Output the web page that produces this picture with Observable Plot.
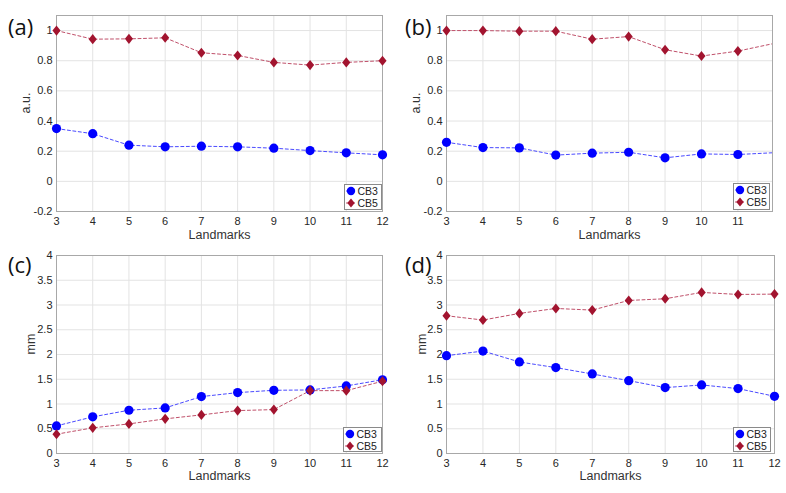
<!DOCTYPE html>
<html>
<head>
<meta charset="utf-8">
<script src="https://cdn.jsdelivr.net/npm/d3@7"></script>
<script src="https://cdn.jsdelivr.net/npm/@observablehq/plot@0.6"></script>
<style>
  html, body { margin: 0; padding: 0; background: #fff; }
  #wrap { position: relative; width: 786px; height: 493px; background: #fff; overflow: hidden; font-family: "Liberation Sans", Arial, sans-serif; }
  .panel { position: absolute; }
  .tag { position: absolute; font-family: "Open Sans", "Liberation Sans", sans-serif; font-size: 22px; color: #111; line-height: 1; }
  .legend { position: absolute; background: #fff; border: 1px solid #8a8a8a; box-sizing: border-box; }
  .legend svg { display: block; }
</style>
</head>
<body>
<div id="wrap"></div>
<script>
// ---- Data ----
const landmarks = [3, 4, 5, 6, 7, 8, 9, 10, 11, 12];
const seriesNames = ["CB3", "CB5"];
const panelTags = ["(a)", "(b)", "(c)", "(d)"];
const yLabels = ["a.u.", "a.u.", "mm", "mm"];
const xLabel = "Landmarks";

const aCB3 = [0.35, 0.316, 0.24, 0.229, 0.233, 0.229, 0.22, 0.204, 0.189, 0.176];
const aCB5 = [1.0, 0.943, 0.945, 0.952, 0.853, 0.835, 0.789, 0.771, 0.789, 0.80];
const bCB3 = [0.259, 0.224, 0.222, 0.174, 0.187, 0.193, 0.156, 0.182, 0.178, 0.19];
const bCB5 = [1.0, 1.0, 0.996, 0.996, 0.943, 0.96, 0.873, 0.831, 0.864, 0.915];
const cCB3 = [0.558, 0.74, 0.874, 0.921, 1.15, 1.23, 1.277, 1.284, 1.365, 1.49];
const cCB5 = [0.39, 0.518, 0.598, 0.70, 0.78, 0.867, 0.887, 1.27, 1.27, 1.46];
const dCB3 = [1.976, 2.07, 1.849, 1.735, 1.607, 1.472, 1.331, 1.385, 1.311, 1.156];
const dCB5 = [2.783, 2.696, 2.83, 2.93, 2.897, 3.092, 3.126, 3.254, 3.213, 3.22];

const xTicksFull = [3, 4, 5, 6, 7, 8, 9, 10, 11, 12];
const xTicksB = [3, 4, 5, 6, 7, 8, 9, 10, 11];
const yTicksAU = [-0.2, 0, 0.2, 0.4, 0.6, 0.8, 1];
const yTicksMM = [0, 0.5, 1, 1.5, 2, 2.5, 3, 3.5, 4];

const colCB3 = "#0000ff";
const colCB5 = "#a2142f";
const lineCB3 = "#4a4aff";
const lineCB5 = "#c0506a";

// MATLAB-like diamond (slightly taller than wide)
const matDiamond = {
  draw(ctx, size) {
    const r = Math.sqrt(size / Math.PI);
    const hh = r * 1.1, hw = r * 0.88;
    ctx.moveTo(0, -hh); ctx.lineTo(hw, 0); ctx.lineTo(0, hh); ctx.lineTo(-hw, 0); ctx.closePath();
  }
};

function rows(vals) { return landmarks.map((x, i) => ({x, y: vals[i]})); }

const panels = [
  {tag: panelTags[0], ylab: yLabels[0], c3: aCB3, c5: aCB5, left: 0, top: 0, width: 393, height: 245,
   mL: 56, mR: 11, mT: 15, mB: 34, xDom: [3, 12], xT: xTicksFull, yDom: [-0.2, 1.1], yT: yTicksAU, ylDx: -31, xlDy: 27,
   tagPos: [8, 15], leg: [344, 184, 38, 26]},
  {tag: panelTags[1], ylab: yLabels[1], c3: bCB3, c5: bCB5, left: 393, top: 0, width: 393, height: 245,
   mL: 53, mR: 14, mT: 15, mB: 34, xDom: [3, 11.95], xT: xTicksB, yDom: [-0.2, 1.1], yT: yTicksAU, ylDx: -31, xlDy: 27,
   tagPos: [405, 15], leg: [733, 183, 37, 27]},
  {tag: panelTags[2], ylab: yLabels[2], c3: cCB3, c5: cCB5, left: 0, top: 240, width: 393, height: 253,
   mL: 56, mR: 11, mT: 15, mB: 40, xDom: [3, 12], xT: xTicksFull, yDom: [0, 4], yT: yTicksMM, ylDx: -26, xlDy: 26,
   tagPos: [8, 253], leg: [343, 427, 39, 25]},
  {tag: panelTags[3], ylab: yLabels[3], c3: dCB3, c5: dCB5, left: 393, top: 240, width: 393, height: 253,
   mL: 53, mR: 12, mT: 15, mB: 40, xDom: [3, 12], xT: xTicksFull, yDom: [0, 4], yT: yTicksMM, ylDx: -25, xlDy: 26,
   tagPos: [405, 253], leg: [733, 427, 38, 25]}
];

const wrap = document.getElementById("wrap");

for (const p of panels) {
  const d3rows = rows(p.c3);
  const d5rows = rows(p.c5);
  const inDom = r => r.x >= p.xDom[0] && r.x <= p.xDom[1];
  const chart = Plot.plot({
    width: p.width, height: p.height,
    marginLeft: p.mL, marginRight: p.mR, marginTop: p.mT, marginBottom: p.mB,
    style: {fontFamily: "Liberation Sans, Arial, sans-serif", fontSize: "11px", color: "#262626", background: "transparent", overflow: "visible"},
    x: {domain: p.xDom, label: null},
    y: {domain: p.yDom, label: null},
    marks: [
      Plot.gridX(p.xT, {stroke: "#e3e3e3", strokeOpacity: 1}),
      Plot.gridY(p.yT, {stroke: "#e3e3e3", strokeOpacity: 1}),
      Plot.frame({stroke: "#a8a8a8"}),
      Plot.axisX({ticks: p.xT, tickSize: 0, tickPadding: 5.5, tickFormat: d => String(d), label: null, fontSize: 11}),
      Plot.axisY({ticks: p.yT, tickSize: 0, tickPadding: 4, tickFormat: d => String(d), label: null, fontSize: 11}),
      Plot.text([xLabel], {text: d => d, frameAnchor: "bottom", dy: p.xlDy, fontSize: 12.5, fill: "#333"}),
      Plot.text([p.ylab], {text: d => d, frameAnchor: "left", dx: p.ylDx, rotate: -90, fontSize: 12.5, fill: "#333"}),
      Plot.line(d3rows, {x: "x", y: "y", stroke: lineCB3, strokeWidth: 1, strokeDasharray: "3,2.5", clip: true}),
      Plot.line(d5rows, {x: "x", y: "y", stroke: lineCB5, strokeWidth: 1, strokeDasharray: "3,2.5", clip: true}),
      Plot.dot(d3rows.filter(inDom), {x: "x", y: "y", fill: colCB3, r: 4.6, symbol: "circle"}),
      Plot.dot(d5rows.filter(inDom), {x: "x", y: "y", fill: colCB5, r: 4.6, symbol: matDiamond})
    ]
  });
  const div = document.createElement("div");
  div.className = "panel";
  div.style.left = p.left + "px";
  div.style.top = p.top + "px";
  div.appendChild(chart);
  wrap.appendChild(div);

  const tag = document.createElement("div");
  tag.className = "tag";
  tag.style.left = p.tagPos[0] + "px";
  tag.style.top = p.tagPos[1] + "px";
  tag.textContent = p.tag;
  wrap.appendChild(tag);

  // legend
  const [lx, ly, lw, lh] = p.leg;
  const leg = document.createElement("div");
  leg.className = "legend";
  leg.style.left = lx + "px";
  leg.style.top = ly + "px";
  leg.style.width = lw + "px";
  leg.style.height = lh + "px";
  const svg = d3.create("svg").attr("width", lw - 2).attr("height", lh - 2);
  const entries = [
    {name: seriesNames[0], color: colCB3, line: lineCB3, sym: d3.symbolCircle, size: Math.PI * 4.2 * 4.2},
    {name: seriesNames[1], color: colCB5, line: lineCB5, sym: matDiamond, size: Math.PI * 4.2 * 4.2}
  ];
  entries.forEach((e, i) => {
    const cy = 6 + i * 12;
    svg.append("line").attr("x1", 1).attr("x2", 11).attr("y1", cy).attr("y2", cy)
      .attr("stroke", e.line).attr("stroke-width", 1).attr("stroke-dasharray", "2,1.5");
    svg.append("path").attr("d", d3.symbol(e.sym, e.size)()).attr("transform", `translate(6,${cy})`).attr("fill", e.color);
    svg.append("text").attr("x", 12.5).attr("y", cy).attr("dy", "0.36em")
      .attr("font-family", "Liberation Sans, Arial, sans-serif").attr("font-size", 10.5).attr("fill", "#222").text(e.name);
  });
  leg.appendChild(svg.node());
  wrap.appendChild(leg);
}
</script>
</body>
</html>
